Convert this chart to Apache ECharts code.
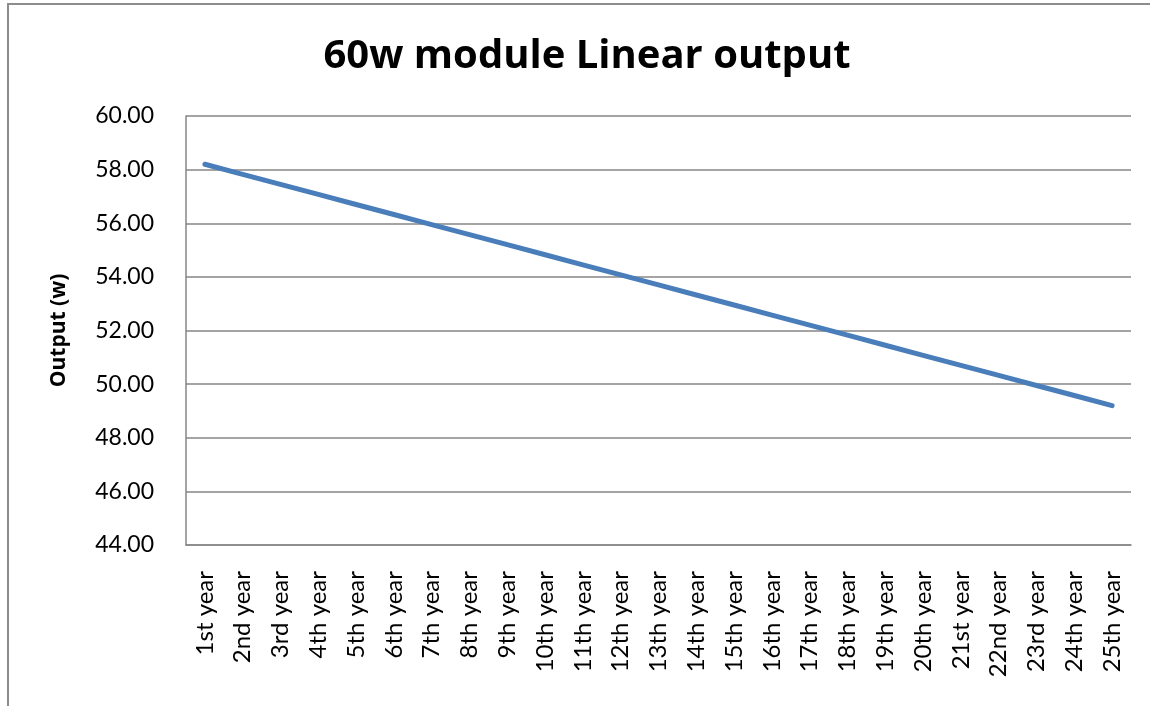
<!DOCTYPE html>
<html>
<head>
<meta charset="utf-8">
<script src="https://cdn.jsdelivr.net/npm/echarts@6/dist/echarts.min.js"></script>
<style>
  html, body { margin: 0; padding: 0; background: #fff; overflow: hidden; }
  #frame {
    position: absolute; left: 7px; top: 3px; width: 1160px; height: 720px;
    border: 2px solid #8c8c8c; box-sizing: border-box;
  }
  #myChart { position: absolute; left: 0; top: 0; width: 1150px; height: 706px; }
</style>
</head>
<body>
<div id="frame"></div>
<div id="myChart"></div>
<script>
// categories and values
var years = ["1st year", "2nd year", "3rd year", "4th year", "5th year", "6th year", "7th year",
  "8th year", "9th year", "10th year", "11th year", "12th year", "13th year", "14th year",
  "15th year", "16th year", "17th year", "18th year", "19th year", "20th year", "21st year",
  "22nd year", "23rd year", "24th year", "25th year"];
var outputW = [58.2, 57.825, 57.45, 57.075, 56.7, 56.325, 55.95, 55.575, 55.2, 54.825,
  54.45, 54.075, 53.7, 53.325, 52.95, 52.575, 52.2, 51.825, 51.45, 51.075,
  50.7, 50.325, 49.95, 49.575, 49.2];
var yMin = 44, yMax = 60, yStep = 2;

var myChart = echarts.init(document.getElementById("myChart"));
var font = "Lato, 'Open Sans', sans-serif";
var option = {
  animation: false,
  title: {
    text: "60w module Linear output",
    left: 582, top: 32, textAlign: "center",
    textStyle: { fontFamily: "'Open Sans', sans-serif", fontSize: 40, fontWeight: "bold", color: "#000" }
  },
  grid: { left: 186, top: 116, width: 945, height: 429 },
  xAxis: {
    type: "category",
    data: years,
    boundaryGap: true,
    axisLine: { show: true, lineStyle: { color: "#868686", width: 1.5 } },
    axisTick: { show: false },
    axisLabel: { rotate: 90, margin: 26, interval: 0, fontFamily: font, fontSize: 24, color: "#000" }
  },
  yAxis: {
    type: "value",
    min: yMin, max: yMax, interval: yStep,
    name: "Output (w)",
    nameLocation: "middle",
    nameGap: 116,
    nameRotate: 90,
    nameTextStyle: { fontFamily: "'Open Sans', sans-serif", fontSize: 21, fontWeight: "bold", color: "#000" },
    axisLine: { show: true, lineStyle: { color: "#868686", width: 1.5 } },
    axisTick: { show: false },
    axisLabel: {
      margin: 32, fontFamily: font, fontSize: 23, color: "#000",
      formatter: function (v) { return v.toFixed(2); }
    },
    splitLine: { lineStyle: { color: "#868686", width: 1.5 } }
  },
  series: [{
    type: "line",
    data: outputW,
    symbol: "none",
    lineStyle: { color: "#4a7ebb", width: 5, cap: "round" }
  }]
};
myChart.setOption(option);
</script>
</body>
</html>
